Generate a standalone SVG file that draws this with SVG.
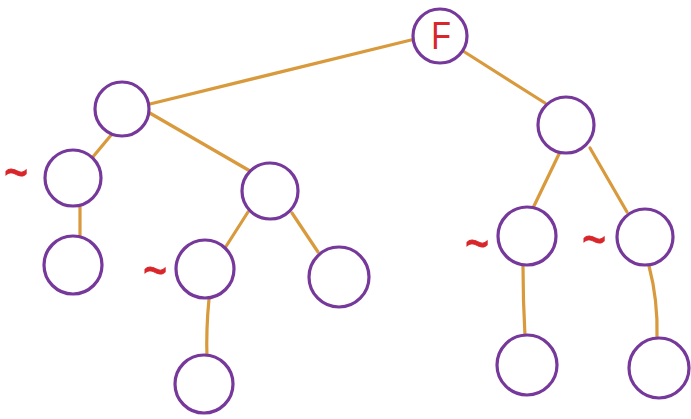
<svg xmlns="http://www.w3.org/2000/svg" width="691" height="419" viewBox="0 0 691 419">
<style>
.n{fill:#fff;stroke:#76389a;stroke-width:3.2}
.e{fill:none;stroke:#d89a3c;stroke-width:3.2;stroke-linecap:round}
.t{fill:#d8262a;font-family:"Liberation Sans",Arial,sans-serif}
.w{font-size:36px;stroke:#d8262a;stroke-width:0.5;text-anchor:middle;dominant-baseline:central}
</style>
<rect width="691" height="419" fill="#fff"/>
<g id="edges">
<path class="e" d="M150,104 L411,40"/>
<path class="e" d="M463,51 L545,103"/>
<path class="e" d="M112,134 L92,158"/>
<path class="e" d="M148,112 L250,171"/>
<path class="e" d="M80,207 L80,237"/>
<path class="e" d="M248,212 L225,248"/>
<path class="e" d="M292,213 L318,252"/>
<path class="e" d="M209,299 Q206,330 207,358"/>
<path class="e" d="M559,154 L533,208"/>
<path class="e" d="M590,148 L627,212"/>
<path class="e" d="M523,266 Q523,300 525,336"/>
<path class="e" d="M649,266 Q658,300 657,337"/>
</g>
<g id="nF"><circle class="n" cx="440" cy="36" r="27"/><text class="t" x="441" y="49" font-size="38" text-anchor="middle" transform="translate(441,0) scale(0.85,1) translate(-441,0)">F</text></g>
<g id="nA"><circle class="n" cx="122" cy="109" r="27"/></g>
<g id="nB"><circle class="n" cx="566" cy="125" r="28"/></g>
<g id="nC"><circle class="n" cx="73" cy="178" r="28"/><text class="t w" transform="translate(16,172) scale(1.15,1.6)">~</text></g>
<g id="nD"><circle class="n" cx="73" cy="265" r="29"/></g>
<g id="nE"><circle class="n" cx="270" cy="191" r="28"/></g>
<g id="nG"><circle class="n" cx="205" cy="269" r="29"/><text class="t w" transform="translate(155,270) scale(1.15,1.6)">~</text></g>
<g id="nH"><circle class="n" cx="339" cy="277" r="30"/></g>
<g id="nI"><circle class="n" cx="204" cy="384" r="29"/></g>
<g id="nJ"><circle class="n" cx="527" cy="236" r="29"/><text class="t w" transform="translate(477,243) scale(1.15,1.6)">~</text></g>
<g id="nK"><circle class="n" cx="645" cy="237" r="28"/><text class="t w" transform="translate(594,239) scale(1.15,1.6)">~</text></g>
<g id="nL"><circle class="n" cx="527" cy="365" r="30"/></g>
<g id="nM"><circle class="n" cx="659" cy="368" r="30"/></g>
</svg>
